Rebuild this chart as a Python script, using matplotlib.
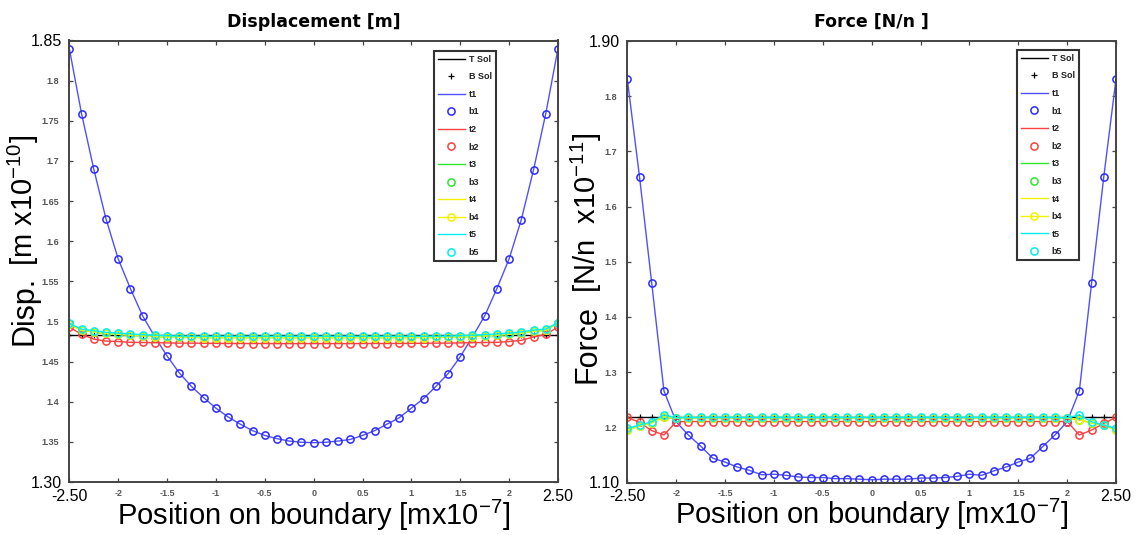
import matplotlib
matplotlib.use('Agg')
import matplotlib.pyplot as plt

plt.rcParams['font.family'] = ['Liberation Sans', 'DejaVu Sans']
plt.rcParams['mathtext.fontset'] = 'custom'
plt.rcParams['mathtext.rm'] = 'Liberation Sans'
plt.rcParams['mathtext.it'] = 'Liberation Sans:italic'
plt.rcParams['mathtext.bf'] = 'Liberation Sans:bold'
plt.rcParams['mathtext.default'] = 'rm'

# ---------------- data ----------------
X = [-2.5, -2.375, -2.25, -2.125, -2.0, -1.875, -1.75, -1.625, -1.5, -1.375,
     -1.25, -1.125, -1.0, -0.875, -0.75, -0.625, -0.5, -0.375, -0.25, -0.125,
     0.0, 0.125, 0.25, 0.375, 0.5, 0.625, 0.75, 0.875, 1.0, 1.125,
     1.25, 1.375, 1.5, 1.625, 1.75, 1.875, 2.0, 2.125, 2.25, 2.375, 2.5]

# Displacement panel
disp_tsol = [1.483, 1.483, 1.483, 1.483, 1.483, 1.483, 1.483, 1.483, 1.483, 1.483,
             1.483, 1.483, 1.483, 1.483, 1.483, 1.483, 1.483, 1.483, 1.483, 1.483,
             1.483, 1.483, 1.483, 1.483, 1.483, 1.483, 1.483, 1.483, 1.483, 1.483,
             1.483, 1.483, 1.483, 1.483, 1.483, 1.483, 1.483, 1.483, 1.483, 1.483, 1.483]
disp_t1 = [1.840, 1.759, 1.690, 1.628, 1.578, 1.541, 1.507, 1.481, 1.457, 1.436,
           1.419, 1.405, 1.392, 1.381, 1.372, 1.364, 1.358, 1.354, 1.351, 1.3495,
           1.349, 1.3495, 1.351, 1.353, 1.358, 1.364, 1.372, 1.380, 1.392, 1.404,
           1.419, 1.435, 1.456, 1.481, 1.507, 1.541, 1.578, 1.627, 1.689, 1.759, 1.840]
disp_t2 = [1.493, 1.484, 1.478, 1.4755, 1.475, 1.474, 1.4738, 1.4735, 1.4733, 1.473,
           1.473, 1.4728, 1.4727, 1.4726, 1.4725, 1.4725, 1.4725, 1.4724, 1.4724, 1.4724,
           1.4724, 1.4724, 1.4724, 1.4724, 1.4725, 1.4725, 1.4725, 1.4726, 1.4727, 1.4728,
           1.473, 1.473, 1.4733, 1.4735, 1.4738, 1.474, 1.475, 1.4765, 1.4807, 1.484, 1.493]
disp_t3 = [1.497, 1.489, 1.487, 1.485, 1.484, 1.483, 1.482, 1.4812, 1.4806, 1.4803,
           1.4801, 1.480, 1.480, 1.480, 1.480, 1.480, 1.480, 1.480, 1.480, 1.480,
           1.480, 1.480, 1.480, 1.480, 1.480, 1.480, 1.480, 1.480, 1.480, 1.480,
           1.4801, 1.4803, 1.4806, 1.4812, 1.482, 1.483, 1.484, 1.4855, 1.4878, 1.489, 1.4985]
disp_t4 = [1.497, 1.489, 1.487, 1.485, 1.484, 1.483, 1.482, 1.4812, 1.4806, 1.4803,
           1.4801, 1.480, 1.480, 1.480, 1.480, 1.480, 1.480, 1.480, 1.480, 1.480,
           1.480, 1.480, 1.480, 1.480, 1.480, 1.480, 1.480, 1.480, 1.480, 1.480,
           1.4801, 1.4803, 1.4806, 1.4812, 1.482, 1.483, 1.484, 1.4855, 1.4878, 1.489, 1.4985]
disp_t5 = [1.4975, 1.4905, 1.4885, 1.4865, 1.4855, 1.4845, 1.4835, 1.4828, 1.4822, 1.4819,
           1.4817, 1.4816, 1.4816, 1.4816, 1.4816, 1.4816, 1.4816, 1.4816, 1.4816, 1.4816,
           1.4816, 1.4816, 1.4816, 1.4816, 1.4816, 1.4816, 1.4816, 1.4816, 1.4816, 1.4816,
           1.4817, 1.4819, 1.4822, 1.4828, 1.4835, 1.4845, 1.4855, 1.487, 1.4893, 1.4905, 1.4985]

# Force panel
force_tsol = [1.218, 1.218, 1.218, 1.218, 1.218, 1.218, 1.218, 1.218, 1.218, 1.218,
              1.218, 1.218, 1.218, 1.218, 1.218, 1.218, 1.218, 1.218, 1.218, 1.218,
              1.218, 1.218, 1.218, 1.218, 1.218, 1.218, 1.218, 1.218, 1.218, 1.218,
              1.218, 1.218, 1.218, 1.218, 1.218, 1.218, 1.218, 1.218, 1.218, 1.218, 1.218]
force_t1 = [1.831, 1.654, 1.461, 1.266, 1.210, 1.186, 1.166, 1.144, 1.137, 1.128,
            1.122, 1.114, 1.115, 1.113, 1.110, 1.109, 1.109, 1.107, 1.107, 1.106,
            1.105, 1.106, 1.106, 1.106, 1.108, 1.108, 1.109, 1.111, 1.115, 1.113,
            1.121, 1.128, 1.137, 1.144, 1.165, 1.186, 1.210, 1.266, 1.461, 1.654, 1.831]
force_t2 = [1.218, 1.209, 1.194, 1.186, 1.210, 1.2105, 1.2105, 1.2105, 1.2105, 1.2105,
            1.2105, 1.2105, 1.2105, 1.2105, 1.2105, 1.2105, 1.2105, 1.2105, 1.2105, 1.2105,
            1.2105, 1.2105, 1.2105, 1.2105, 1.2105, 1.2105, 1.2105, 1.2105, 1.2105, 1.2105,
            1.2105, 1.2105, 1.2105, 1.2105, 1.2105, 1.2105, 1.2105, 1.186, 1.195, 1.207, 1.218]
force_t3 = [1.195, 1.2025, 1.2085, 1.219, 1.2165, 1.2175, 1.2175, 1.2175, 1.2175, 1.2175,
            1.2175, 1.2175, 1.2175, 1.2175, 1.2175, 1.2175, 1.2175, 1.2175, 1.2175, 1.2175,
            1.2175, 1.2175, 1.2175, 1.2175, 1.2175, 1.2175, 1.2175, 1.2175, 1.2175, 1.2175,
            1.2175, 1.2175, 1.2175, 1.2175, 1.2175, 1.2175, 1.2165, 1.214, 1.2075, 1.2044, 1.1953]
force_t4 = [1.195, 1.2025, 1.2085, 1.219, 1.2165, 1.2175, 1.2175, 1.2175, 1.2175, 1.2175,
            1.2175, 1.2175, 1.2175, 1.2175, 1.2175, 1.2175, 1.2175, 1.2175, 1.2175, 1.2175,
            1.2175, 1.2175, 1.2175, 1.2175, 1.2175, 1.2175, 1.2175, 1.2175, 1.2175, 1.2175,
            1.2175, 1.2175, 1.2175, 1.2175, 1.2175, 1.2175, 1.2165, 1.214, 1.2075, 1.2044, 1.1953]
force_t5 = [1.198, 1.204, 1.210, 1.2225, 1.217, 1.218, 1.218, 1.218, 1.218, 1.218,
            1.218, 1.218, 1.218, 1.218, 1.218, 1.218, 1.218, 1.218, 1.218, 1.218,
            1.218, 1.218, 1.218, 1.218, 1.218, 1.218, 1.218, 1.218, 1.218, 1.218,
            1.218, 1.218, 1.218, 1.218, 1.218, 1.218, 1.217, 1.2225, 1.210, 1.204, 1.198]

legend_labels = ['T Sol', 'B Sol', 't1', 'b1', 't2', 'b2', 't3', 'b3', 't4', 'b4', 't5', 'b5']

x_ticks = [-2.5, -2.0, -1.5, -1.0, -0.5, 0.0, 0.5, 1.0, 1.5, 2.0, 2.5]
x_ticklabels = ['-2.50', '-2', '-1.5', '-1', '-0.5', '0', '0.5', '1', '1.5', '2', '2.50']
disp_yticks = [1.30, 1.35, 1.40, 1.45, 1.50, 1.55, 1.60, 1.65, 1.70, 1.75, 1.80, 1.85]
disp_yticklabels = ['1.30', '1.35', '1.4', '1.45', '1.5', '1.55', '1.6', '1.65', '1.7', '1.75', '1.8', '1.85']
force_yticks = [1.10, 1.20, 1.30, 1.40, 1.50, 1.60, 1.70, 1.80, 1.90]
force_yticklabels = ['1.10', '1.2', '1.3', '1.4', '1.5', '1.6', '1.7', '1.8', '1.90']

# ---------------- style ----------------
C_LINE_BLUE = '#5050ff'
C_MK_BLUE = '#2a2aff'
C_RED = '#ff4040'
C_GREEN = '#2ee62e'
C_YELLOW = '#f2f200'
C_CYAN = '#00eeee'
C_AX = '#444444'

fig = plt.figure(figsize=(11.4, 5.35), dpi=100)
W, H = 1140.0, 535.0
ax1 = fig.add_axes([69.3 / W, 1 - 482.0 / H, 488.7 / W, 441.5 / H])
ax2 = fig.add_axes([627.3 / W, 1 - 482.5 / H, 488.7 / W, 441.5 / H])


def draw(ax, tsol, t1, t2, t3, t4, t5):
    L = legend_labels
    mk = dict(ls='none', marker='o', ms=5.2, mfc='none', mew=1.1)
    ax.plot(X, tsol, color='black', lw=1.0, label=L[0])
    ax.plot(X, tsol, ls='none', marker='+', ms=4.5, mew=0.9, color='black', label=L[1])
    ax.plot(X, t1, color=C_LINE_BLUE, lw=1.0, label=L[2])
    ax.plot(X, t1, mec=C_MK_BLUE, label=L[3], **mk)
    ax.plot(X, t2, color=C_RED, lw=1.0, label=L[4])
    ax.plot(X, t2, mec=C_RED, label=L[5], **mk)
    ax.plot(X, t3, color=C_GREEN, lw=1.0, label=L[6])
    ax.plot(X, t3, mec=C_GREEN, label=L[7], **mk)
    ax.plot(X, t4, color=C_YELLOW, lw=1.0, label=L[8])
    ax.plot(X, t4, color=C_YELLOW, lw=1.0, marker='o', ms=5.2, mfc='none',
            mec=C_YELLOW, mew=1.1, label=L[9])
    ax.plot(X, t5, color=C_CYAN, lw=1.0, label=L[10])
    ax.plot(X, t5, mec=C_CYAN, label=L[11], **mk)


def style(ax, yticks, yticklabels, ylim, legend_anchor):
    ax.set_xlim(-2.5, 2.5)
    ax.set_ylim(*ylim)
    ax.set_xticks(x_ticks)
    ax.set_xticklabels(x_ticklabels)
    ax.set_yticks(yticks)
    ax.set_yticklabels(yticklabels)
    for sp in ax.spines.values():
        sp.set_color(C_AX)
        sp.set_linewidth(1.4)
    ax.tick_params(direction='in', length=3, width=0.9, color=C_AX,
                   top=True, right=True)
    # big end labels, small grey intermediate labels
    xt = ax.xaxis.get_major_ticks()
    for i, t in enumerate(xt):
        if i == 0 or i == len(xt) - 1:
            t.label1.set_fontsize(11.5)
            t.label1.set_color('black')
            t.set_pad(5)
        else:
            t.label1.set_fontsize(6.5)
            t.label1.set_fontweight('bold')
            t.label1.set_color('#555555')
            t.set_pad(5)
    yt = ax.yaxis.get_major_ticks()
    for i, t in enumerate(yt):
        if i == 0 or i == len(yt) - 1:
            t.label1.set_fontsize(11.5)
            t.label1.set_color('black')
            t.set_pad(5)
        else:
            t.label1.set_fontsize(6.5)
            t.label1.set_fontweight('bold')
            t.label1.set_color('#555555')
            t.set_pad(7.5)
    leg = ax.legend(loc='upper left', bbox_to_anchor=legend_anchor, fontsize=6.5,
                    frameon=True, fancybox=False, edgecolor='#333333', framealpha=1,
                    borderpad=0.45, labelspacing=0.95, handlelength=3.0,
                    handletextpad=0.4, borderaxespad=0)
    leg.get_frame().set_linewidth(1.5)
    for txt in leg.get_texts():
        txt.set_fontweight('bold')
        txt.set_color('#222222')


draw(ax1, disp_tsol, disp_t1, disp_t2, disp_t3, disp_t4, disp_t5)
draw(ax2, force_tsol, force_t1, force_t2, force_t3, force_t4, force_t5)
style(ax1, disp_yticks, disp_yticklabels, (1.30, 1.85), (0.746, 0.977))
style(ax2, force_yticks, force_yticklabels, (1.10, 1.90), (0.797, 0.98))

ax1.set_title('Displacement [m]', family='DejaVu Sans', fontweight='bold',
              fontsize=12.5, pad=10)
ax2.set_title('Force [N/n ]', family='DejaVu Sans', fontweight='bold',
              fontsize=12.5, pad=10)

xlab = 'Position on boundary [mx10$^{-7}$]'
fig.text(313.6 / W, 1 - 525.0 / H, xlab, ha='center', va='baseline', fontsize=21)
fig.text(871.6 / W, 1 - 524.0 / H, xlab, ha='center', va='baseline', fontsize=21)

# y labels (rotated)
fig.text(33.0 / W, 1 - 345.0 / H, 'Disp.', rotation=90, rotation_mode='anchor',
         ha='left', va='baseline', fontsize=22)
fig.text(33.0 / W, 1 - 266.0 / H, '[m x10$^{-10}$]', rotation=90, rotation_mode='anchor',
         ha='left', va='baseline', fontsize=21)
fig.text(596.0 / W, 1 - 383.0 / H, 'Force', rotation=90, rotation_mode='anchor',
         ha='left', va='baseline', fontsize=22)
fig.text(596.0 / W, 1 - 293.0 / H, '[N/n  x10$^{-11}$]', rotation=90, rotation_mode='anchor',
         ha='left', va='baseline', fontsize=21)

fig.savefig('out.png', dpi=100)
